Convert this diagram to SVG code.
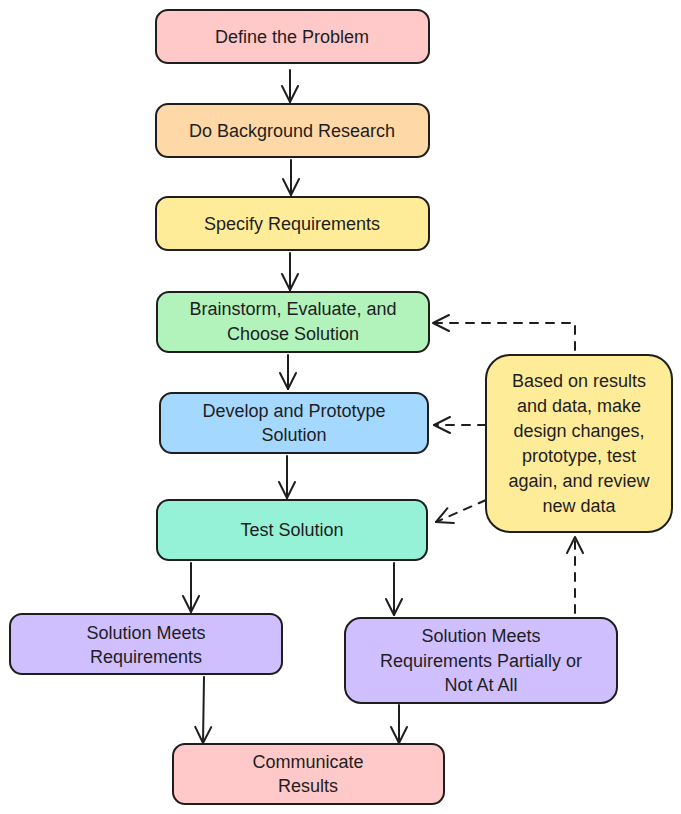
<svg xmlns="http://www.w3.org/2000/svg" width="681" height="814" viewBox="0 0 681 814">
<defs>
<marker id="ah" viewBox="0 0 20 20" refX="18" refY="10" markerWidth="20" markerHeight="20" markerUnits="userSpaceOnUse" orient="auto">
<path d="M2,2 L18,10 L2,18" fill="none" stroke="#1e1e1e" stroke-width="2" stroke-linecap="round" stroke-linejoin="round"/>
</marker>
</defs>
<style>
.box{stroke:#1e1e1e;stroke-width:2}
.t{font-family:"Liberation Sans","Noto Sans",sans-serif;font-size:18px;fill:#1e1e1e;text-anchor:middle;dominant-baseline:central}
.c{fill:none;stroke:#1e1e1e;stroke-width:2;stroke-linecap:round}
.d{stroke-dasharray:8 8}
</style>
<rect width="681" height="814" fill="#ffffff"/>
<g id="connectors">
<line class="c" x1="290" y1="70" x2="290" y2="102" marker-end="url(#ah)"/>
<line class="c" x1="291" y1="160" x2="291" y2="195" marker-end="url(#ah)"/>
<line class="c" x1="290" y1="253" x2="290" y2="290" marker-end="url(#ah)"/>
<line class="c" x1="288" y1="355" x2="288" y2="389" marker-end="url(#ah)"/>
<line class="c" x1="287" y1="456" x2="287" y2="498" marker-end="url(#ah)"/>
<line class="c" x1="191" y1="563" x2="191" y2="612" marker-end="url(#ah)"/>
<line class="c" x1="394" y1="563" x2="394" y2="615" marker-end="url(#ah)"/>
<line class="c" x1="204" y1="677" x2="203" y2="743" marker-end="url(#ah)"/>
<line class="c" x1="399" y1="705" x2="399" y2="743" marker-end="url(#ah)"/>
<polyline class="c d" points="575,350 575,323 433,323" marker-end="url(#ah)"/>
<line class="c d" x1="486" y1="425" x2="434" y2="425" marker-end="url(#ah)"/>
<line class="c d" x1="486" y1="500" x2="436" y2="522" marker-end="url(#ah)"/>
<line class="c d" x1="575" y1="613" x2="575" y2="537" marker-end="url(#ah)"/>
</g>
<g id="n1"><rect class="box" x="156" y="10" width="273" height="53" rx="12" fill="#ffc9c9"/><text class="t" x="292" y="37">Define the Problem</text></g>
<g id="n2"><rect class="box" x="156" y="104" width="273" height="53" rx="12" fill="#ffd8a8"/><text class="t" x="292" y="131">Do Background Research</text></g>
<g id="n3"><rect class="box" x="156" y="197" width="273" height="53" rx="12" fill="#ffec99"/><text class="t" x="292" y="224">Specify Requirements</text></g>
<g id="n4"><rect class="box" x="157" y="292" width="272" height="60" rx="12" fill="#b2f2bb"/><text class="t" x="293" y="309">Brainstorm, Evaluate, and</text><text class="t" x="293" y="334">Choose Solution</text></g>
<g id="n5"><rect class="box" x="160" y="393" width="268" height="60" rx="12" fill="#a5d8ff"/><text class="t" x="294" y="411">Develop and Prototype</text><text class="t" x="294" y="435">Solution</text></g>
<g id="n6"><rect class="box" x="157" y="500" width="270" height="60" rx="12" fill="#96f2d7"/><text class="t" x="292" y="530">Test Solution</text></g>
<g id="n7"><rect class="box" x="486" y="355" width="186" height="177" rx="24" fill="#ffec99"/>
<text class="t" x="579" y="381">Based on results</text><text class="t" x="579" y="406">and data, make</text><text class="t" x="579" y="431">design changes,</text><text class="t" x="579" y="456">prototype, test</text><text class="t" x="579" y="481">again, and review</text><text class="t" x="579" y="506">new data</text></g>
<g id="n8"><rect class="box" x="10" y="614" width="272" height="60" rx="12" fill="#d0bfff"/><text class="t" x="146" y="633">Solution Meets</text><text class="t" x="146" y="657">Requirements</text></g>
<g id="n9"><rect class="box" x="345" y="618" width="272" height="85" rx="16" fill="#d0bfff"/><text class="t" x="481" y="636">Solution Meets</text><text class="t" x="481" y="661">Requirements Partially or</text><text class="t" x="481" y="685">Not At All</text></g>
<g id="n10"><rect class="box" x="173" y="744" width="271" height="60" rx="12" fill="#ffc9c9"/><text class="t" x="308" y="762">Communicate</text><text class="t" x="308" y="786">Results</text></g>
</svg>
